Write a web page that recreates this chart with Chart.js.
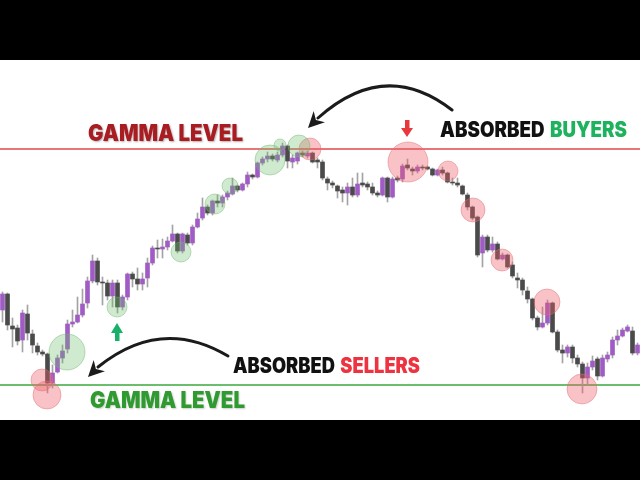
<!DOCTYPE html>
<html>
<head>
<meta charset="utf-8">
<script src="https://cdn.jsdelivr.net/npm/chart.js@4.4.0/dist/chart.umd.min.js"></script>
<style>
html, body { margin: 0; padding: 0; background: #000; }
#wrap { position: relative; width: 640px; height: 480px; background: #000; overflow: hidden; }
#plot { position: absolute; left: 0; top: 60px; width: 640px; height: 360px; background: #fff; }
.lbl { position: absolute; font-family: Inter, "Noto Sans", sans-serif; font-weight: 900; white-space: nowrap; line-height: 1; transform-origin: 0 0; }
#gammaTop { left: 88px; top: 122px; font-size: 22.5px; color: #a81c22; text-shadow: 1px 1px 2px rgba(0,0,0,0.3); }
#gammaBot { left: 90px; top: 389px; font-size: 22.5px; color: #2f9a2f; text-shadow: 1px 1px 2px rgba(0,0,0,0.2); }
#buyers { left: 440px; top: 119px; font-size: 21px; color: #111; word-spacing: 2px; }
#sellers { left: 233px; top: 355px; font-size: 21px; color: #111; word-spacing: 2px; }
.g { color: #1fb25e; }
.r { color: #ee3340; }
</style>
</head>
<body>
<div id="wrap">
  <div id="plot"><canvas id="chart1" width="640" height="360"></canvas></div>
  <div class="lbl" id="gammaTop" data-w="155">GAMMA LEVEL</div>
  <div class="lbl" id="buyers" data-w="187">ABSORBED <span class="g">BUYERS</span></div>
  <div class="lbl" id="sellers" data-w="187">ABSORBED <span class="r">SELLERS</span></div>
  <div class="lbl" id="gammaBot" data-w="155">GAMMA LEVEL</div>
</div>
<script>
// candle data (price units)
var opens = [110,126,94,92,80,106,86,74,68,66,37,48,62,71,96,98,105,117,139,159,
  138,137,124,137,113,123,146,141,136,142,157,172,171,173,179,186,169,185,177,193,
  202,213,207,219,217,223,226,234,230,236,245,243,257,261,264,260,265,274,258,259,
  267,264,267,260,258,241,237,234,230,227,233,225,237,236,233,227,225,242,223,242,
  241,255,251,249,253,253,251,245,250,247,238,237,234,225,213,203,167,183,170,176,
  161,165,155,142,140,129,121,102,93,97,117,88,70,67,73,62,56,42,53,61,
  44,61,65,80,84,89,89,67];
var highs = [128,127,102,95,110,115,90,77,70,67,55,65,75,100,110,123,131,143,165,162,
  143,140,140,140,125,147,148,152,147,162,174,180,181,183,195,187,187,187,195,207,
  222,215,220,225,225,229,242,235,237,248,246,258,263,268,266,268,277,275,265,268,
  269,269,268,262,260,243,239,235,233,237,242,247,247,238,237,229,243,243,243,244,
  256,261,253,255,255,254,252,251,253,248,242,242,235,227,214,204,185,185,183,178,
  167,166,158,147,142,133,122,104,113,120,118,90,75,75,75,65,58,57,64,63,
  65,68,83,90,92,95,93,77];
var lows = [98,90,73,75,68,80,67,65,64,27,32,47,57,67,93,97,103,112,137,135,
  115,120,113,107,110,120,133,130,130,133,155,162,162,170,178,167,167,175,175,192,
  200,205,205,213,213,220,225,228,229,233,241,242,255,258,259,258,263,252,252,256,
  263,262,257,252,240,230,232,222,218,215,223,223,233,230,225,223,224,218,222,238,
  238,250,245,247,250,250,244,244,245,237,235,233,225,210,200,163,153,168,168,160,
  160,152,142,132,125,117,100,90,92,95,87,68,57,63,57,53,27,35,50,40,
  43,58,62,75,83,88,65,65];
var closes = [126,95,91,79,107,87,75,68,66,37,47,62,69,96,98,105,116,139,159,138,
  137,124,137,113,123,146,141,136,141,157,172,171,173,179,186,169,186,177,193,201,
  213,207,219,217,223,227,234,230,236,245,243,257,261,264,261,265,274,259,262,267,
  265,267,258,258,242,237,235,229,227,233,225,236,235,233,227,225,242,223,241,240,
  254,252,249,253,252,251,245,250,247,238,237,235,226,213,202,165,183,170,176,161,
  165,153,144,140,130,121,102,93,97,117,88,70,67,73,62,56,42,53,59,44,
  62,65,80,84,90,93,67,75];

// absorption bubbles: x = candle index, y = price, r = radius in px
var greenX = [12.9, 22.9, 35.7, 42.5, 45.5, 53.5, 55.5, 59.3];
var greenY = [68, 113, 168, 216, 234, 260, 275, 274];
var greenR = [18, 10, 10, 10, 8, 15, 6, 11];
var redX = [7.9, 8.9, 61.5, 81.1, 89.1, 94.1, 99.9, 108.9, 115.9];
var redY = [40, 25, 271, 258, 249, 210, 160, 118, 31];
var redR = [11, 14, 11, 20, 10, 12, 11, 13, 15];

var gammaHigh = 271;
var gammaLow = 35;

var purple = "#a05cc4";
var darkGray = "#4a4a4a";
var wickGray = "#a3a3a3";

function buildCandles() {
    var wicks = [], bodies = [], bodyColours = [];
    for (var i = 0; i < opens.length; i++) {
        wicks.push({ x: i, y: [lows[i], highs[i]] });
        bodies.push({ x: i, y: [opens[i], closes[i]] });
        bodyColours.push(closes[i] >= opens[i] ? purple : darkGray);
    }
    return { wicks: wicks, bodies: bodies, colours: bodyColours };
}

function bubblePoints(xs, ys, rs) {
    var pts = [];
    for (var i = 0; i < xs.length; i++) {
        pts.push({ x: xs[i], y: ys[i], r: rs[i] });
    }
    return pts;
}

function levelLine(v) {
    return [{ x: -0.5, y: v }, { x: opens.length - 0.5, y: v }];
}

function arrowHead(ctx, tipX, tipY, fromX, fromY, len, half) {
    var a = Math.atan2(tipY - fromY, tipX - fromX);
    ctx.beginPath();
    ctx.moveTo(tipX, tipY);
    ctx.lineTo(tipX - len * Math.cos(a) + half * Math.sin(a), tipY - len * Math.sin(a) - half * Math.cos(a));
    ctx.lineTo(tipX - len * Math.cos(a) * 0.7, tipY - len * Math.sin(a) * 0.7);
    ctx.lineTo(tipX - len * Math.cos(a) - half * Math.sin(a), tipY - len * Math.sin(a) + half * Math.cos(a));
    ctx.closePath();
    ctx.fill();
}

// curved callout arrows and the small up/down markers (canvas px)
var annotations = {
    id: "annotations",
    afterDatasetsDraw: function (chart) {
        var ctx = chart.ctx;
        ctx.save();
        ctx.strokeStyle = "#1b1b1b";
        ctx.fillStyle = "#1b1b1b";
        ctx.lineWidth = 3;
        ctx.lineCap = "round";

        // top: from "absorbed buyers" to the peak
        ctx.beginPath();
        ctx.moveTo(452, 50);
        ctx.quadraticCurveTo(385, -2, 318, 58);
        ctx.stroke();
        arrowHead(ctx, 308, 68, 322, 54, 16, 8);

        // bottom: from "absorbed sellers" to the low
        ctx.beginPath();
        ctx.moveTo(228, 296);
        ctx.quadraticCurveTo(161, 256, 98, 307);
        ctx.stroke();
        arrowHead(ctx, 88, 317, 102, 303, 16, 8);

        // red down arrow
        ctx.fillStyle = "#e8383d";
        ctx.fillRect(405, 60, 4.5, 9);
        ctx.beginPath();
        ctx.moveTo(401, 68);
        ctx.lineTo(413, 68);
        ctx.lineTo(407, 77);
        ctx.closePath();
        ctx.fill();

        // green up arrow
        ctx.fillStyle = "#17b169";
        ctx.fillRect(115, 272, 4.5, 9);
        ctx.beginPath();
        ctx.moveTo(111, 273);
        ctx.lineTo(123, 273);
        ctx.lineTo(117, 263);
        ctx.closePath();
        ctx.fill();
        ctx.restore();
    }
};

function drawChart() {
    var c = buildCandles();
    var ctx = document.getElementById("chart1");
    new Chart(ctx, {
        type: "bar",
        data: {
            datasets: [
                {
                    type: "bubble",
                    data: bubblePoints(greenX, greenY, greenR),
                    backgroundColor: "rgba(110,190,110,0.32)",
                    borderColor: "rgba(110,180,110,0.45)",
                    borderWidth: 1,
                    order: 0
                },
                {
                    type: "bubble",
                    data: bubblePoints(redX, redY, redR),
                    backgroundColor: "rgba(236,95,105,0.38)",
                    borderColor: "rgba(225,110,115,0.45)",
                    borderWidth: 1,
                    order: 0
                },
                {
                    data: c.bodies,
                    backgroundColor: c.colours,
                    barThickness: 4,
                    grouped: false,
                    order: 1
                },
                {
                    data: c.wicks,
                    backgroundColor: wickGray,
                    barThickness: 1,
                    grouped: false,
                    order: 2
                },
                {
                    type: "line",
                    data: levelLine(gammaHigh),
                    borderColor: "#e0484d",
                    borderWidth: 1.5,
                    pointRadius: 0,
                    order: 3
                },
                {
                    type: "line",
                    data: levelLine(gammaLow),
                    borderColor: "#3aa83a",
                    borderWidth: 1.5,
                    pointRadius: 0,
                    order: 3
                }
            ]
        },
        options: {
            responsive: false,
            animation: false,
            layout: { padding: 0, autoPadding: false },
            plugins: { legend: { display: false }, tooltip: { enabled: false } },
            scales: {
                x: { type: "linear", min: -0.5, max: opens.length - 0.5, offset: false, display: false },
                y: { type: "linear", min: 0, max: 360, display: false }
            }
        },
        plugins: [annotations]
    });
}

// squeeze the labels to the widths seen in the picture
function fitLabels() {
    var els = document.querySelectorAll(".lbl");
    for (var i = 0; i < els.length; i++) {
        var el = els[i];
        var target = parseFloat(el.getAttribute("data-w"));
        var w = el.getBoundingClientRect().width;
        el.style.transform = "scaleX(" + (target / w) + ")";
    }
}

drawChart();
if (document.fonts && document.fonts.ready) {
    document.fonts.ready.then(fitLabels);
} else {
    fitLabels();
}
</script>
</body>
</html>
